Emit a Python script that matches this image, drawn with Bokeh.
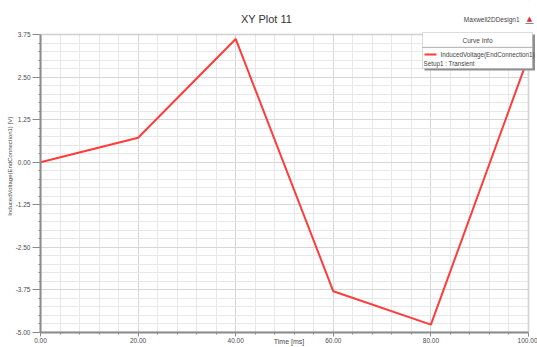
from bokeh.plotting import figure
from bokeh.models import Range1d, Label, BoxAnnotation, FixedTicker, Title
from bokeh.embed import file_html
from bokeh.resources import INLINE

# ---- data ----
time_ms = [0, 20, 40, 60, 80, 100]
voltage = [0.0, 0.72, 3.62, -3.79, -4.77, 3.10]
x_ticks = [0, 20, 40, 60, 80, 100]
x_tick_labels = ["0.00", "20.00", "40.00", "60.00", "80.00", "100.00"]
y_ticks = [-5.0, -3.75, -2.5, -1.25, 0.0, 1.25, 2.5, 3.75]
y_tick_labels = ["-5.00", "-3.75", "-2.50", "-1.25", "0.00", "1.25", "2.50", "3.75"]

FONT = "Liberation Sans"
W, H = 537, 347
L, R, T, B = 40, 528, 34, 332  # plot-area pixel edges in the reference
X0, X1, Y0, Y1 = 0, 100, -5.0, 3.75
SX = (R - L) / (X1 - X0)
SY = (B - T) / (Y1 - Y0)


def px2x(px):
    return X0 + (px - L) / SX


def px2y(py):
    return Y1 - (py - T) / SY


# the frame is extended to the top and right canvas edges so that
# texts / legend outside the plotted area can be drawn as annotations
p = figure(width=W, height=H, output_backend="svg", toolbar_location=None,
           x_range=Range1d(X0, px2x(W)), y_range=Range1d(Y0, px2y(0)),
           min_border_left=L, min_border_right=0,
           min_border_top=0, min_border_bottom=H - B)
p.title.visible = False
p.background_fill_color = "white"
p.border_fill_color = "white"
p.outline_line_color = None

# y axis title (left panel)
p.add_layout(Title(text="InducedVoltage(EndConnection1) [V]", align="center", offset=0,
                   standoff=0, text_font=FONT, text_font_size="6px",
                   text_font_style="normal", text_color="#4a4a4a"), "left")

# axes
p.xaxis.ticker = FixedTicker(ticks=x_ticks, minor_ticks=list(range(0, 101, 4)))
p.yaxis.ticker = FixedTicker(ticks=y_ticks, minor_ticks=[Y0 + 0.25 * i for i in range(36)])
p.xaxis.major_label_overrides = {t: s for t, s in zip(x_ticks, x_tick_labels)}
p.yaxis.major_label_overrides = {t: s for t, s in zip(y_ticks, y_tick_labels)}
p.xaxis.bounds = (X0, X1)
p.yaxis.bounds = (Y0, Y1)
for ax in (p.xaxis, p.yaxis):
    ax.axis_line_color = "#8a8a8a"
    ax.axis_line_width = 2
    ax.major_tick_line_color = "#8a8a8a"
    ax.minor_tick_line_color = "#8a8a8a"
    ax.major_tick_in = 0
    ax.minor_tick_in = 0
    ax.minor_tick_out = 2
    ax.major_label_text_font = FONT
    ax.major_label_text_font_size = "6.5px"
    ax.major_label_text_color = "#4a4a4a"
p.xaxis.major_tick_out = 4
p.xaxis.major_label_standoff = 1
p.xaxis.axis_label = "Time [ms]"
p.xaxis.axis_label_text_font = FONT
p.xaxis.axis_label_text_font_size = "7px"
p.xaxis.axis_label_text_font_style = "normal"
p.xaxis.axis_label_text_color = "#4a4a4a"
p.xaxis.axis_label_standoff = -8
p.yaxis.major_tick_out = 8
p.yaxis.major_label_standoff = 2

# grid
for g in (p.xgrid, p.ygrid):
    g.grid_line_color = "#d6d6d6"
    g.grid_line_width = 1
    g.minor_grid_line_color = "#e8e8e8"
    g.minor_grid_line_width = 1
p.xgrid.ticker = p.xaxis.ticker
p.ygrid.ticker = p.yaxis.ticker

# data line
p.line(time_ms, voltage, line_color="#ff3b3b", line_width=2)

# white masks outside the plotted area (hide grid extension)
p.add_layout(BoxAnnotation(bottom=Y1, fill_color="white", fill_alpha=1, line_color=None))
p.add_layout(BoxAnnotation(left=X1, fill_color="white", fill_alpha=1, line_color=None))
# plot-area border
p.add_layout(BoxAnnotation(left=X0, right=X1, bottom=Y0, top=Y1, fill_alpha=0,
                           line_color="#9a9a9a", line_width=2))

# title and top-right texts
p.add_layout(Label(x=px2x(266), y=px2y(18), text="XY Plot 11", text_font=FONT,
                   text_font_size="11px", text_color="#333333",
                   text_align="center", text_baseline="middle"))
p.add_layout(Label(x=px2x(519), y=px2y(19), text="Maxwell2DDesign1", text_font=FONT,
                   text_font_size="6.5px", text_color="#444444",
                   text_align="right", text_baseline="middle"))
p.add_layout(Label(x=px2x(529), y=px2y(18), text="\u25b2", text_font="DejaVu Sans",
                   text_font_size="7px", text_color="#e03030",
                   text_align="center", text_baseline="middle"))
p.add_layout(BoxAnnotation(left=px2x(525), right=px2x(533), top=px2y(22.5), bottom=px2y(23.5),
                           fill_color="#888888", fill_alpha=1, line_color=None))

# legend box (Curve Info)
p.add_layout(BoxAnnotation(left=px2x(424), right=px2x(534.5), top=px2y(34), bottom=px2y(70),
                           fill_color="#8f8f8f", fill_alpha=1, line_color=None))
p.add_layout(BoxAnnotation(left=px2x(422), right=px2x(532), top=px2y(32), bottom=px2y(68),
                           fill_color="white", fill_alpha=1, line_color="#8a8a8a", line_width=1))
p.add_layout(BoxAnnotation(left=px2x(422), right=px2x(532), top=px2y(46.5), bottom=px2y(47),
                           fill_color="#a0a0a0", fill_alpha=1, line_color="#a0a0a0", line_width=1))
p.add_layout(Label(x=px2x(477), y=px2y(39.5), text="Curve Info", text_font=FONT,
                   text_font_size="6.5px", text_color="#444444",
                   text_align="center", text_baseline="middle"))
seg = p.segment(x0=[px2x(424)], y0=[px2y(54)], x1=[px2x(436)], y1=[px2y(54)],
                line_color="#ff3b3b", line_width=2)
seg.level = "overlay"
p.add_layout(Label(x=px2x(440), y=px2y(54), text="InducedVoltage(EndConnection1)",
                   text_font=FONT, text_font_size="6.3px", text_color="#444444",
                   text_align="left", text_baseline="middle"))
p.add_layout(Label(x=px2x(423), y=px2y(62.5), text="Setup1 : Transient",
                   text_font=FONT, text_font_size="6.3px", text_color="#444444",
                   text_align="left", text_baseline="middle"))

open("out.html", "w").write(file_html(p, INLINE))
